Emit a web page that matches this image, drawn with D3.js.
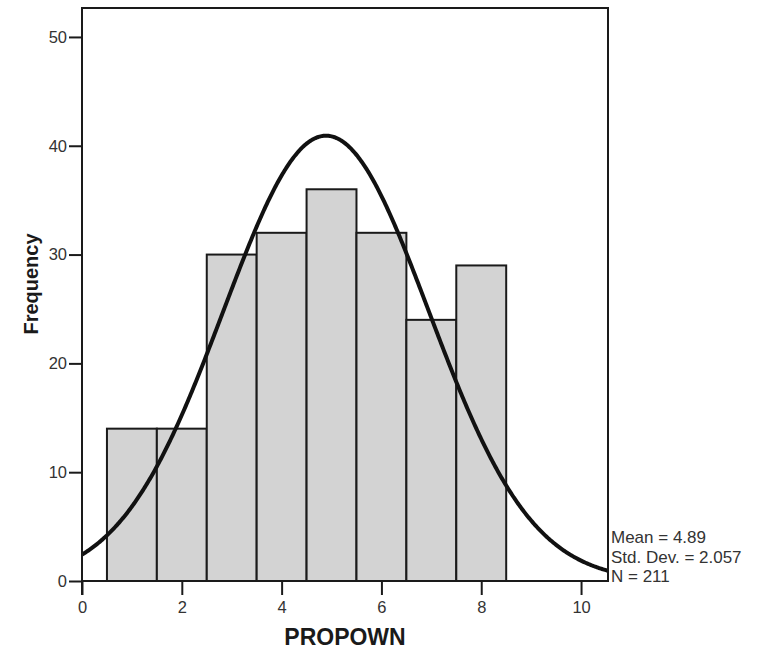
<!DOCTYPE html>
<html>
<head>
<meta charset="utf-8">
<script src="https://cdn.jsdelivr.net/npm/d3@7"></script>
<style>
  html, body { margin: 0; padding: 0; background: #fff; }
  svg { display: block; }
</style>
</head>
<body>
<svg id="chart" width="760" height="651"></svg>
<script>
// ---- data ----
const binStarts = [0.5, 1.5, 2.5, 3.5, 4.5, 5.5, 6.5, 7.5];
const binWidth = 1;
const frequencies = [14, 14, 30, 32, 36, 32, 24, 29];
const xTicks = [0, 2, 4, 6, 8, 10];
const yTicks = [0, 10, 20, 30, 40, 50];
const statMean = 4.89;
const statSd = 2.057;
const statN = 211;
const statLabels = ["Mean = 4.89", "Std. Dev. = 2.057", "N = 211"];

// ---- layout ----
const svg = d3.select("#chart");
const pLeft = 82, pRight = 608, pTop = 8, pBottom = 581;
const x = d3.scaleLinear().domain([0, 10.54]).range([pLeft, pRight]);
const y = d3.scaleLinear().domain([0, 52.66]).range([pBottom, pTop]);

const ink = "#1a1a1a";
const textCol = "#333";
const font = "Arial, 'Liberation Sans', sans-serif";

// bars
svg.append("g").selectAll("rect")
  .data(frequencies)
  .join("rect")
  .attr("x", (d, i) => x(binStarts[i]))
  .attr("width", (d, i) => x(binStarts[i] + binWidth) - x(binStarts[i]))
  .attr("y", d => y(d))
  .attr("height", d => y(0) - y(d))
  .attr("fill", "#d3d3d3")
  .attr("stroke", ink)
  .attr("stroke-width", 2);

// normal curve (fitted from the stated mean, sd and N)
svg.append("clipPath").attr("id", "clip")
  .append("rect").attr("x", pLeft).attr("y", pTop).attr("width", pRight - pLeft).attr("height", pBottom - pTop);
const xs = d3.range(0, 10.56, 0.02);
const pdf = v => statN * binWidth / (statSd * Math.sqrt(2 * Math.PI)) * Math.exp(-((v - statMean) ** 2) / (2 * statSd * statSd));
svg.append("path")
  .datum(xs)
  .attr("clip-path", "url(#clip)")
  .attr("fill", "none")
  .attr("stroke", "#111")
  .attr("stroke-width", 4)
  .attr("d", d3.line().x(v => x(v)).y(v => y(pdf(v))));

// frame
svg.append("rect")
  .attr("x", pLeft).attr("y", pTop)
  .attr("width", pRight - pLeft).attr("height", pBottom - pTop)
  .attr("fill", "none").attr("stroke", ink).attr("stroke-width", 2);

// y axis
const yAxis = svg.append("g")
  .attr("transform", `translate(${pLeft},0)`)
  .call(d3.axisLeft(y).tickValues(yTicks).tickSize(13).tickPadding(2).tickFormat(d3.format("d")));
yAxis.select(".domain").remove();
yAxis.selectAll(".tick line").attr("stroke", ink).attr("stroke-width", 2);
yAxis.selectAll("text").attr("fill", textCol).style("font-family", font).style("font-size", "16.5px");

// small extension of y axis below x axis
svg.append("line").attr("x1", pLeft).attr("x2", pLeft).attr("y1", pBottom).attr("y2", pBottom + 14)
  .attr("stroke", ink).attr("stroke-width", 2);

// x axis
const xAxis = svg.append("g")
  .attr("transform", `translate(0,${pBottom})`)
  .call(d3.axisBottom(x).tickValues(xTicks).tickSize(14).tickPadding(6).tickFormat(d3.format("d")));
xAxis.select(".domain").remove();
xAxis.selectAll(".tick line").attr("stroke", ink).attr("stroke-width", 2);
xAxis.selectAll("text").attr("fill", textCol).style("font-family", font).style("font-size", "16.5px");

// axis titles
svg.append("text")
  .attr("x", 345).attr("y", 645)
  .attr("text-anchor", "middle")
  .attr("fill", ink)
  .style("font-family", font)
  .style("font-weight", "bold").style("font-size", "23px")
  .text("PROPOWN");

svg.append("text")
  .attr("transform", `translate(38,284) rotate(-90)`)
  .attr("text-anchor", "middle")
  .attr("fill", ink)
  .style("font-family", font)
  .style("font-weight", "bold").style("font-size", "20px")
  .text("Frequency");

// stats
svg.append("g").selectAll("text")
  .data(statLabels)
  .join("text")
  .attr("x", pRight + 3)
  .attr("y", (d, i) => 543 + i * 19.5)
  .attr("fill", textCol)
  .style("font-family", font)
  .style("font-size", "17px")
  .text(d => d);
</script>
</body>
</html>
